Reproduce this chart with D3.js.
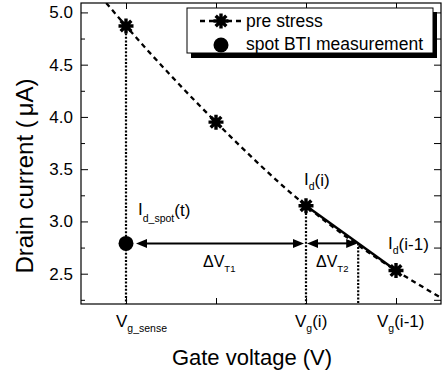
<!DOCTYPE html>
<html><head><meta charset="utf-8">
<script src="https://cdn.jsdelivr.net/npm/d3@7"></script>
<style>
body{margin:0;background:#fff}
text{font-family:"Liberation Sans",Arial,Helvetica,sans-serif;fill:#000}
</style>
</head><body>
<script>
// ---------- data ----------
const gateTicks = [1, 2, 3, 4];
const gateTickMain = ["V", "", "V", "V"];
const gateTickSub = ["g_sense", "", "g", "g"];
const gateTickTail = ["", "", "(i)", "(i-1)"];
const currentTicks = [2.5, 3.0, 3.5, 4.0, 4.5, 5.0];
const currentMinorTicks = [2.25, 2.75, 3.25, 3.75, 4.25, 4.75];
const preStressV = [1, 2, 3, 4];
const preStressI = [4.87, 3.95, 3.15, 2.53];
const dashedV = [0.78, 1, 2, 3, 4, 4.5];
const dashedI = [5.09, 4.87, 3.95, 3.15, 2.53, 2.27];
const spotV = [1];
const spotI = [2.79];
const crossV = [3.58];   // where the Id(i)–Id(i-1) chord meets the spot current
const seriesNames = ["pre stress", "spot BTI measurement"];

// ---------- layout ----------
const W = 442, H = 379;
const L = 81, R = 441, T = 3, B = 304;
const labelDx = [-10, 0, -11, -19];

const svg = d3.select("body").append("svg").attr("width", W).attr("height", H);
const x = d3.scaleLinear([0.5, 4.5], [L, R]);
const y = d3.scaleLinear([2.21, 5.09], [B, T]);
const FONT = '"Liberation Sans",Arial,Helvetica,sans-serif';

svg.append("defs").append("clipPath").attr("id", "clip")
  .append("rect").attr("x", L).attr("y", T).attr("width", R - L).attr("height", B - T);

// ---------- axes ----------
function styleAxis(g) {
  g.select(".domain").remove();
  g.attr("font-family", FONT).attr("font-size", 17);
  g.selectAll(".tick line").attr("stroke", "#000").attr("stroke-width", 1);
  g.selectAll(".tick text").attr("fill", "#000");
}
svg.append("g").attr("transform", `translate(${L},0)`)
  .call(d3.axisLeft(y).tickValues(currentTicks).tickSize(-7).tickPadding(8).tickFormat(d3.format(".1f")))
  .call(styleAxis);
svg.append("g").attr("transform", `translate(${L},0)`)
  .call(d3.axisLeft(y).tickValues(currentMinorTicks).tickSize(-4).tickFormat(""))
  .call(styleAxis);
svg.append("g").attr("transform", `translate(${R},0)`)
  .call(d3.axisRight(y).tickValues(currentTicks).tickSize(-7).tickFormat(""))
  .call(styleAxis);
svg.append("g").attr("transform", `translate(${R},0)`)
  .call(d3.axisRight(y).tickValues(currentMinorTicks).tickSize(-7).tickFormat(""))
  .call(styleAxis);
svg.append("g").attr("transform", `translate(0,${B})`)
  .call(d3.axisBottom(x).tickValues(gateTicks).tickSize(-6).tickFormat(""))
  .call(styleAxis);
svg.append("g").attr("transform", `translate(0,${T})`)
  .call(d3.axisTop(x).tickValues(gateTicks).tickSize(-6).tickFormat(""))
  .call(styleAxis);

// x tick labels with subscripts
gateTicks.forEach((v, i) => {
  if (!gateTickMain[i]) return;
  const t = svg.append("text").attr("x", x(v) + labelDx[i]).attr("y", 327).attr("font-size", 17);
  t.append("tspan").text(gateTickMain[i]);
  t.append("tspan").attr("font-size", 10.5).attr("dy", 4.5).text(gateTickSub[i]);
  if (gateTickTail[i]) t.append("tspan").attr("dy", -4.5).text(gateTickTail[i]);
});

// frame
svg.append("rect").attr("x", L).attr("y", T).attr("width", R - L).attr("height", B - T)
  .attr("fill", "none").attr("stroke", "#000").attr("stroke-width", 1.2);

// axis titles
svg.append("text").attr("x", 252).attr("y", 365).attr("text-anchor", "middle")
  .attr("font-size", 22).text("Gate voltage (V)");
const yt = svg.append("text").attr("transform", "translate(33,176) rotate(-90)")
  .attr("text-anchor", "middle").attr("font-size", 24);
yt.append("tspan").text("Drain current (");
yt.append("tspan").attr("dx", 4).text("μA");
yt.append("tspan").text(")");

// ---------- plot ----------
const plot = svg.append("g").attr("clip-path", "url(#clip)");

// dotted verticals
const dotted = [
  [preStressV[0], preStressI[0]],
  [preStressV[2], preStressI[2]],
  [crossV[0], spotI[0]]
];
plot.selectAll("line.dot").data(dotted).join("line")
  .attr("x1", d => x(d[0])).attr("x2", d => x(d[0]))
  .attr("y1", d => y(d[1])).attr("y2", B)
  .attr("stroke", "#000").attr("stroke-width", 2.2)
  .attr("stroke-dasharray", "2,1.6");

// dashed pre-stress curve
const curvePts = dashedV.map((v, i) => [v, dashedI[i]]);
plot.append("path").datum(curvePts)
  .attr("d", d3.line().x(d => x(d[0])).y(d => y(d[1])).curve(d3.curveMonotoneX))
  .attr("fill", "none").attr("stroke", "#000").attr("stroke-width", 2.3)
  .attr("stroke-dasharray", "5,4");

// solid chord between Id(i) and Id(i-1)
plot.append("line")
  .attr("x1", x(preStressV[2])).attr("y1", y(preStressI[2]))
  .attr("x2", x(preStressV[3])).attr("y2", y(preStressI[3]))
  .attr("stroke", "#000").attr("stroke-width", 2.5);

// double arrows
function dblArrow(x1, x2, yy) {
  const hl = 11, hw = 4.5;
  plot.append("line").attr("x1", x1 + hl - 1).attr("x2", x2 - hl + 1).attr("y1", yy).attr("y2", yy)
    .attr("stroke", "#000").attr("stroke-width", 2);
  plot.append("path").attr("d", `M${x1},${yy}L${x1 + hl},${yy - hw}L${x1 + hl},${yy + hw}Z`).attr("fill", "#000");
  plot.append("path").attr("d", `M${x2},${yy}L${x2 - hl},${yy - hw}L${x2 - hl},${yy + hw}Z`).attr("fill", "#000");
}
dblArrow(x(spotV[0]) + 10, x(preStressV[2]) - 2, y(spotI[0]));
dblArrow(x(preStressV[2]) + 1, x(crossV[0]) - 1, y(spotI[0]));

// star markers
function starPath(cx, cy, r) {
  const d = r * Math.SQRT1_2;
  return `M${cx - r},${cy}L${cx + r},${cy}M${cx},${cy - r}L${cx},${cy + r}` +
         `M${cx - d},${cy - d}L${cx + d},${cy + d}M${cx - d},${cy + d}L${cx + d},${cy - d}`;
}
svg.selectAll("path.star").data(preStressV.map((v, i) => [v, preStressI[i]])).join("path")
  .attr("d", d => starPath(x(d[0]), y(d[1]), 7.5))
  .attr("stroke", "#000").attr("stroke-width", 3.4).attr("fill", "none");

// spot point
svg.selectAll("circle.spot").data(spotV.map((v, i) => [v, spotI[i]])).join("circle")
  .attr("cx", d => x(d[0])).attr("cy", d => y(d[1])).attr("r", 7.5).attr("fill", "#000");

// ---------- annotations ----------
function subLabel(px, py, main, sub, tail, fs, sfs, sdy) {
  const t = svg.append("text").attr("x", px).attr("y", py).attr("font-size", fs);
  t.append("tspan").text(main);
  t.append("tspan").attr("font-size", sfs).attr("dy", sdy).text(sub);
  if (tail) t.append("tspan").attr("dy", -sdy + 1).text(tail);
}
subLabel(x(preStressV[2]) - 2, 185, "I", "d", "(i)", 17, 10.5, 5);
subLabel(x(preStressV[3]) - 8, 249, "I", "d", "(i-1)", 17, 10.5, 5);
subLabel(x(spotV[0]) + 12, 215, "I", "d_spot", "(t)", 17, 10.5, 7);
subLabel(203, 267, "ΔV", "T1", "", 16, 9.5, 5);
subLabel(316, 267, "ΔV", "T2", "", 16, 9.5, 5);

// ---------- legend ----------
const lg = svg.append("g");
lg.append("rect").attr("x", 191).attr("y", 12).attr("width", 246).attr("height", 46).attr("fill", "#000");
lg.append("rect").attr("x", 187).attr("y", 8).attr("width", 246).attr("height", 45)
  .attr("fill", "#fff").attr("stroke", "#000").attr("stroke-width", 1);
lg.append("line").attr("x1", 200).attr("x2", 242).attr("y1", 21).attr("y2", 21)
  .attr("stroke", "#000").attr("stroke-width", 2.3).attr("stroke-dasharray", "5,4");
lg.append("path").attr("d", starPath(221, 21, 7.5)).attr("stroke", "#000").attr("stroke-width", 3.4);
lg.append("circle").attr("cx", 221).attr("cy", 45).attr("r", 7.5).attr("fill", "#000");
lg.selectAll("text").data(seriesNames).join("text")
  .attr("x", 246).attr("y", (d, i) => i === 0 ? 27 : 50).attr("font-size", 17.5).text(d => d);
</script>
</body></html>
